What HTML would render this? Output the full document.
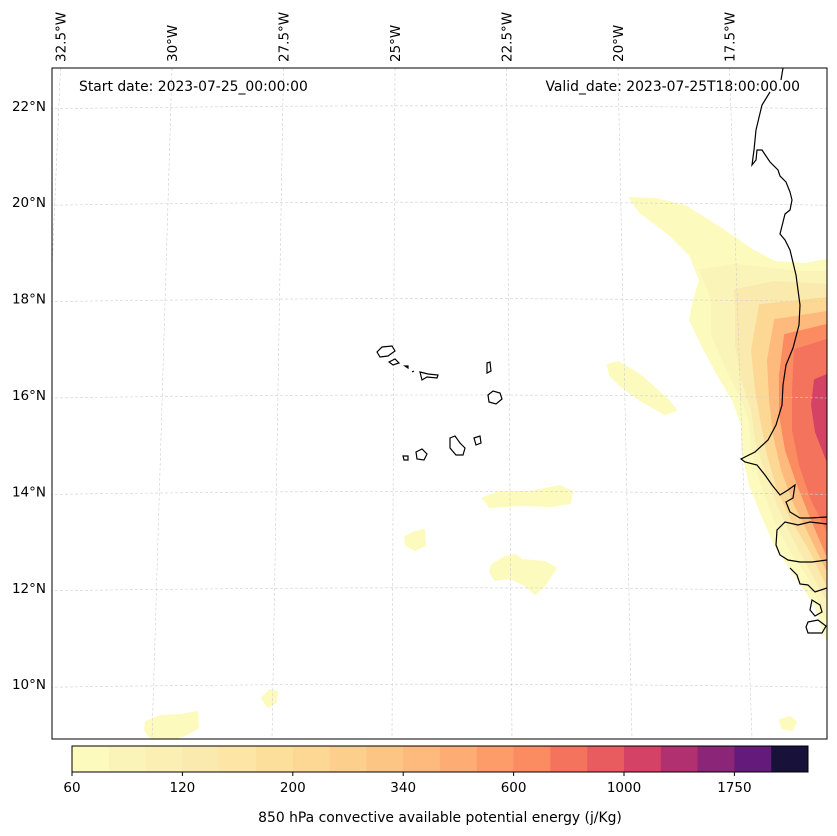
<!DOCTYPE html>
<html><head><meta charset="utf-8"><style>
body{margin:0;background:#fff;font-family:"DejaVu Sans",sans-serif}
svg{display:block}
text{font-family:"DejaVu Sans","Liberation Sans",sans-serif;fill:#000}
</style></head><body>
<svg id="chart" width="837" height="836" viewBox="0 0 837 836">
<defs><clipPath id="mapclip"><rect x="52" y="68" width="775" height="671"/></clipPath></defs>
<g id="map" clip-path="url(#mapclip)">
 <g id="fields"></g>
 <g id="grid"></g>
 <g id="coast"></g>
</g>
<rect x="52" y="68" width="775" height="671" fill="none" stroke="#000" stroke-width="1"/>
<g id="latlabels"></g>
<g id="lonlabels"></g>
<text x="79" y="91" font-size="13.9">Start date: 2023-07-25_00:00:00</text>
<text x="800" y="91" font-size="13.9" text-anchor="end">Valid_date: 2023-07-25T18:00:00.00</text>
<g id="cbar"></g>
<text x="440" y="822" font-size="13.9" text-anchor="middle">850 hPa convective available potential energy (j/Kg)</text>
</svg>
<script>
const binColors=["#fcfbbd","#fbf4b8","#fbefb3","#fbeaae","#fce5a5","#fddf9c","#fdd895","#fdcf8c","#fdc584","#fdba7c","#fdad74","#fd9c69","#fb8b60","#f4735c","#e85c60","#d44366","#b03070","#8a2578","#631a7b","#18123a"];
const cbarTickIdx=[0,3,6,9,12,15,18];
const cbarTickLabels=["60","120","200","340","600","1000","1750"];
const latLabels=["22°N","20°N","18°N","16°N","14°N","12°N","10°N"];
const latValues=[22,20,18,16,14,12,10];
const lonLabels=["32.5°W","30°W","27.5°W","25°W","22.5°W","20°W","17.5°W"];
const lonValues=[-32.5,-30,-27.5,-25,-22.5,-20,-17.5];
const NS="http://www.w3.org/2000/svg";
function mk(tag,attrs,parent){const e=document.createElementNS(NS,tag);for(const k in attrs)e.setAttribute(k,attrs[k]);parent.appendChild(e);return e;}
function yLat(lat,x){return 395-(lat-16)*48.2+((x-440)*(x-440))*0.00002;}
function xLonTop(lon){return 395+(lon+25)*44.6;}
function xLonBot(lon){return 392+(lon+25)*48;}
const grid=document.getElementById('grid');
latValues.concat([8,24]).forEach(v=>{let d="";for(let x=40;x<=840;x+=20){d+=(x===40?"M":"L")+x+","+yLat(v,x).toFixed(1);}
 const p=mk('path',{d:d,fill:"none",stroke:"#cfcfcf","stroke-width":0.6,"stroke-dasharray":"3,2"},grid);
 });
lonValues.concat([-15]).forEach(v=>{const l=mk('line',{x1:xLonTop(v),y1:68,x2:xLonBot(v),y2:739,stroke:"#cfcfcf","stroke-width":0.6,"stroke-dasharray":"3,2"},grid);
 });
const ll=document.getElementById('latlabels');
latValues.forEach((v,i)=>{const t=mk('text',{x:46,y:yLat(v,52)+2,"font-size":13.5,"text-anchor":"end"},ll);t.textContent=latLabels[i];
 });
const lo=document.getElementById('lonlabels');
lonValues.forEach((v,i)=>{const x=xLonTop(v)+5;const t=mk('text',{x:x,y:62,"font-size":13.5,transform:`rotate(-90 ${x} 62)`},lo);t.textContent=lonLabels[i];
 });
const fieldLevels=[
[0,"630,198 655,199 685,206 720,228 752,250 775,262 805,264 827,260 827,640 815,605 795,575 775,545 762,515 750,485 742,450 742,425 733,400 718,375 702,345 690,320 694,300 700,280 690,255 670,235 640,212"],
[1,"700,270 735,265 765,268 800,272 827,272 827,620 810,580 790,550 775,520 760,480 752,450 750,420 740,395 725,365 712,335 712,300"],
[3,"735,290 775,282 827,285 827,600 808,565 792,535 778,505 765,470 756,440 752,410 742,380 736,345 736,310"],
[6,"760,305 827,298 827,585 810,550 792,520 778,490 768,455 762,425 756,390 752,350"],
[9,"775,320 827,312 827,570 810,535 795,505 782,470 774,435 770,400 768,360"],
[12,"785,335 827,325 827,555 812,520 798,485 786,450 780,415 780,375"],
[13,"795,350 827,340 827,530 812,500 800,465 793,430 793,390"],
[15,"815,380 827,375 827,460 816,432 812,405"],
[0,"608,365 618,362 640,375 668,400 676,410 665,414 640,400 620,385 610,375"],
[0,"483,498 500,492 530,492 560,486 572,492 570,503 550,506 520,505 490,507"],
[0,"492,565 505,557 515,555 522,560 545,562 556,568 545,585 535,594 525,585 510,578 495,580 490,572"],
[0,"405,537 415,532 424,530 425,545 415,550 406,545"],
[0,"146,722 160,716 180,715 197,712 198,728 185,735 170,740 150,737 145,730"],
[0,"262,698 270,690 277,692 276,702 268,707"],
[0,"780,720 790,717 796,722 792,730 782,728"]];
const fg=document.getElementById('fields');
fieldLevels.forEach(f=>{const p=mk('polygon',{points:f[1],fill:binColors[f[0]],stroke:binColors[f[0]],"stroke-width":2,"stroke-linejoin":"round"},fg);
 });
const coast=document.getElementById('coast');
const coastLines=["M783,68 L781,80 M770,92 L762,105 L756,130 L754,150 L752,165 L756,160 L757,150 L762,150 L770,162 L778,170 L780,176 L786,182 L790,192 L792,200 L790,210 L785,214 L782,226 L780,234 L785,240 L790,250 L796,275 L800,305 L799,325 L793,348 L786,365 L783,385 L782,405 L776,425 L768,440 L755,452 L741,459 L745,462 L757,465 L765,475 L772,485 L780,495 L788,490 L795,485 L793,498 L786,502 L790,512 L800,518 L810,518 L827,517",
"M827,524 L810,522 L798,525 L785,522 L777,530 L776,545 L780,555 L788,560 L800,562 L812,562 L827,560",
"M827,588 L815,592 L808,585 L800,584 L797,575 L790,568",
"M812,600 L820,605 L822,612 L815,616 L810,610 Z M808,622 L818,620 L826,626 L822,633 L808,633 L806,627 Z"];
coastLines.forEach(d=>{const p=mk('path',{d:d,fill:"none",stroke:"#000","stroke-width":1.2},coast);
 });
const islands=["M377,352 L382,347 L392,346 L395,351 L388,356 L380,357 Z","M389,362 L395,359 L399,363 L393,365 Z","M405,366 L408,366 L408,368 Z","M412,372 L414,371 M420,372 L428,374 L438,375 L437,378 L427,377 L422,380 Z",
"M487,363 L490,362 L491,371 L487,373 Z","M488,395 L493,391 L500,393 L502,399 L496,404 L489,402 Z","M474,438 L480,436 L481,443 L476,445 Z",
"M450,438 L455,436 L460,443 L465,448 L463,455 L456,455 L450,448 Z","M416,452 L422,449 L427,454 L424,460 L417,459 Z","M403,456 L408,456 L408,460 L404,460 Z"];
islands.forEach(d=>{const p=mk('path',{d:d,fill:"#fff",stroke:"#000","stroke-width":1.2},coast);
 });
const cb=document.getElementById('cbar');const cx0=72,cx1=808,cy=746,ch=26;const bw=(cx1-cx0)/binColors.length;
binColors.forEach((c,i)=>{const r=mk('rect',{x:cx0+i*bw,y:cy,width:bw+0.5,height:ch,fill:c},cb);
 });
mk('rect',{x:cx0,y:cy,width:cx1-cx0,height:ch,fill:"none",stroke:"#000","stroke-width":1},cb);
cbarTickIdx.forEach((k,i)=>{const x=cx0+k*bw;mk('line',{x1:x,y1:cy+ch,x2:x,y2:cy+ch+4,stroke:"#000"},cb);
 const t=mk('text',{x:x,y:792,"font-size":13.5,"text-anchor":"middle"},cb);t.textContent=cbarTickLabels[i];
 });
</script>
</body></html>
